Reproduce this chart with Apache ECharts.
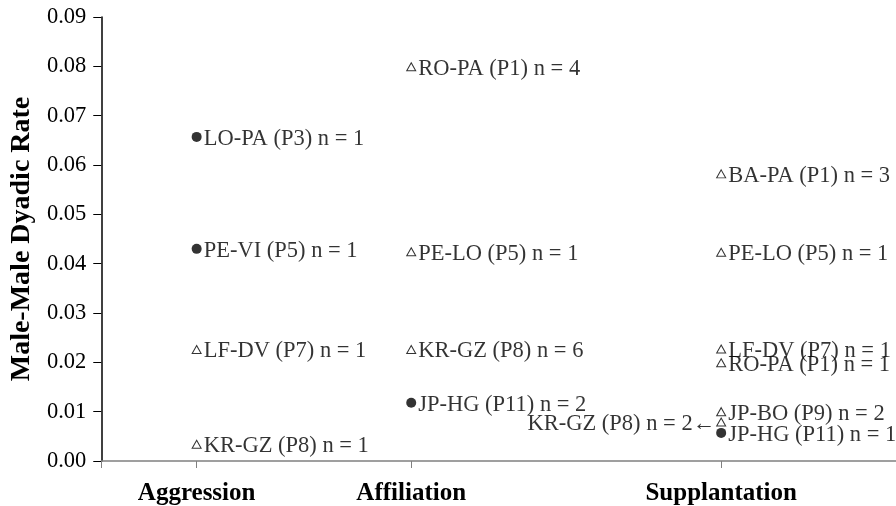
<!DOCTYPE html>
<html>
<head>
<meta charset="utf-8">
<script src="https://cdn.jsdelivr.net/npm/echarts@6/dist/echarts.min.js"></script>
<style>html,body{margin:0;padding:0;background:#fff;}#c{width:896px;height:506px;}</style>
</head>
<body>
<div id="c"></div>
<script>
// Categories and their positions along the horizontal axis
const categories = ['Aggression', 'Affiliation', 'Supplantation'];
const categoryPos = [1, 3.25, 6.5];

// Filled circles
const filledNames = ['LO-PA (P3) n = 1', 'PE-VI (P5) n = 1', 'JP-HG (P11) n = 2', 'JP-HG (P11) n = 1'];
const filledCat = [0, 0, 1, 2];
const filledValues = [0.0657, 0.0430, 0.0118, 0.0057];

// Open triangles
const openNames = ['LF-DV (P7) n = 1', 'KR-GZ (P8) n = 1', 'RO-PA (P1) n = 4', 'PE-LO (P5) n = 1',
  'KR-GZ (P8) n = 6', 'BA-PA (P1) n = 3', 'PE-LO (P5) n = 1', 'LF-DV (P7) n = 1',
  'RO-PA (P1) n = 1', 'JP-BO (P9) n = 2', 'KR-GZ (P8) n = 2'];
const openCat = [0, 0, 1, 1, 1, 2, 2, 2, 2, 2, 2];
const openValues = [0.0226, 0.0034, 0.0799, 0.0424, 0.0226, 0.0582, 0.0423, 0.0227, 0.0199, 0.0100, 0.0079];

const yTickLabels = ['0.00', '0.01', '0.02', '0.03', '0.04', '0.05', '0.06', '0.07', '0.08', '0.09'];

const serif = 'Liberation Serif';
const FS = 22.5;

function build(names, cats, vals, leftIdx) {
  return names.map((n, i) => {
    const d = { name: n, value: [categoryPos[cats[i]], vals[i]] };
    if (i === leftIdx) {
      d.label = { position: 'left', distance: 1, offset: [0, 2], formatter: '{b}\u2190' };
    }
    return d;
  });
}

const chart = echarts.init(document.getElementById('c'), null, { renderer: 'canvas' });
chart.setOption({
  animation: false,
  backgroundColor: '#fff',
  grid: { left: 96, right: 0, top: 17, bottom: 45, containLabel: false },
  xAxis: {
    type: 'value', min: 0, max: 800 / 96,
    splitLine: { show: false },
    axisLine: { show: true, onZero: false, lineStyle: { color: '#808080', width: 1.5 } },
    axisTick: { show: true, length: 7, customValues: [0].concat(categoryPos), lineStyle: { color: '#808080' } },
    axisLabel: {
      show: true, customValues: categoryPos, margin: 20,
      formatter: v => { const k = categoryPos.indexOf(v); return k >= 0 ? categories[k] : ''; },
      fontFamily: serif, fontWeight: 'bold', fontSize: 25, color: '#000'
    }
  },
  yAxis: {
    type: 'value', min: 0, max: 0.09, interval: 0.01,
    name: 'Male-Male Dyadic Rate', nameLocation: 'middle', nameRotate: 90, nameGap: 60,
    nameTextStyle: { fontFamily: serif, fontWeight: 'bold', fontSize: 28, color: '#000' },
    splitLine: { show: false },
    axisLine: { show: true, lineStyle: { color: '#000', width: 1.5 } },
    axisTick: { show: true, length: 8, lineStyle: { color: '#000' } },
    axisLabel: {
      margin: 15, fontFamily: serif, fontSize: FS, color: '#000',
      formatter: v => yTickLabels[Math.round(v * 100)]
    }
  },
  series: [
    {
      type: 'scatter', symbol: 'circle', symbolSize: 10,
      itemStyle: { color: '#000' },
      label: { show: true, position: 'right', distance: 2, offset: [0, 2], formatter: '{b}', fontFamily: serif, fontSize: FS, color: '#000' },
      data: build(filledNames, filledCat, filledValues, -1)
    },
    {
      type: 'scatter', symbol: 'triangle', symbolSize: [9, 8],
      itemStyle: { color: '#fff', borderColor: '#000', borderWidth: 1 },
      label: { show: true, position: 'right', distance: 2, offset: [0, 2], formatter: '{b}', fontFamily: serif, fontSize: FS, color: '#000' },
      data: build(openNames, openCat, openValues, openNames.length - 1)
    }
  ]
});
</script>
</body>
</html>
